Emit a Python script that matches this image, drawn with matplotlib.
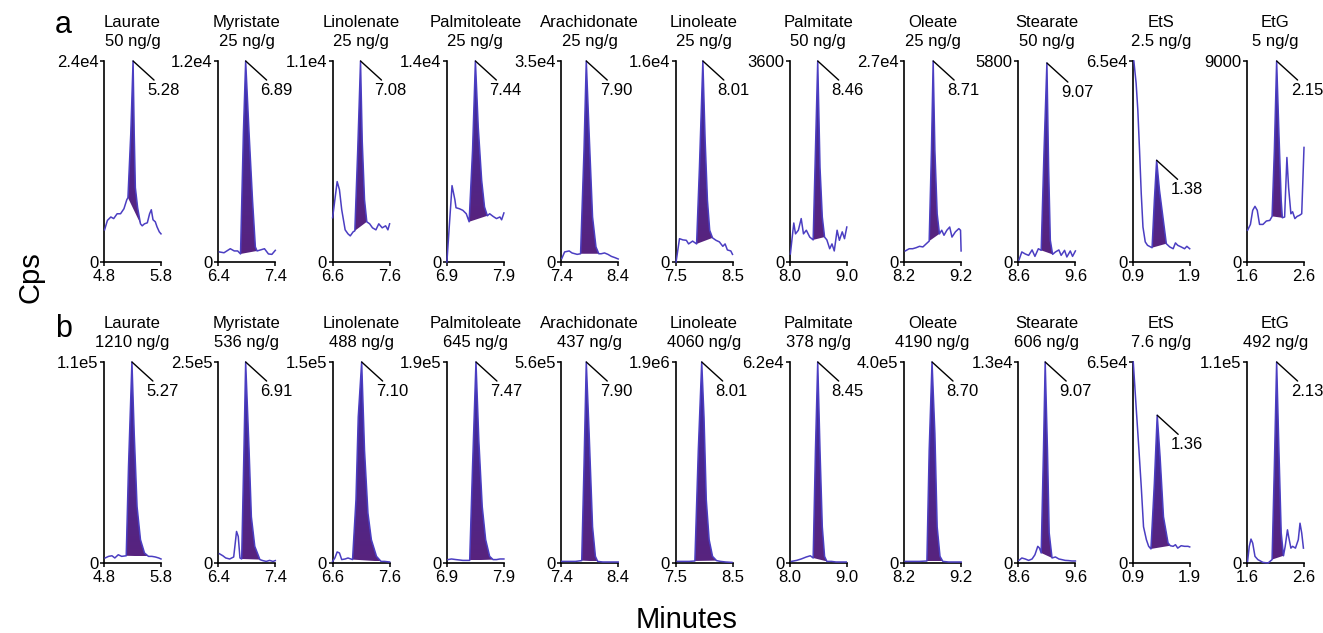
import numpy as np
import matplotlib.pyplot as plt
from matplotlib.patches import Polygon
from matplotlib.colors import LinearSegmentedColormap

plt.rcParams['font.family'] = ['Liberation Sans', 'DejaVu Sans']

# panel info
names = ['Laurate', 'Myristate', 'Linolenate', 'Palmitoleate', 'Arachidonate', 'Linoleate',
         'Palmitate', 'Oleate', 'Stearate', 'EtS', 'EtG']
conc_a = ['50 ng/g', '25 ng/g', '25 ng/g', '25 ng/g', '25 ng/g', '25 ng/g',
          '50 ng/g', '25 ng/g', '50 ng/g', '2.5 ng/g', '5 ng/g']
conc_b = ['1210 ng/g', '536 ng/g', '488 ng/g', '645 ng/g', '437 ng/g', '4060 ng/g',
          '378 ng/g', '4190 ng/g', '606 ng/g', '7.6 ng/g', '492 ng/g']
xstart = [4.8, 6.4, 6.6, 6.9, 7.4, 7.5, 8.0, 8.2, 8.6, 0.9, 1.6]
xend = [5.8, 7.4, 7.6, 7.9, 8.4, 8.5, 9.0, 9.2, 9.6, 1.9, 2.6]
ymax_a = ['2.4e4', '1.2e4', '1.1e4', '1.4e4', '3.5e4', '1.6e4', '3600', '2.7e4', '5800', '6.5e4', '9000']
ymax_b = ['1.1e5', '2.5e5', '1.5e5', '1.9e5', '5.6e5', '1.9e6', '6.2e4', '4.0e5', '1.3e4', '6.5e4', '1.1e5']
rt_a = ['5.28', '6.89', '7.08', '7.44', '7.90', '8.01', '8.46', '8.71', '9.07', '1.38', '2.15']
rt_b = ['5.27', '6.91', '7.10', '7.47', '7.90', '8.01', '8.45', '8.70', '9.07', '1.36', '2.13']

# integrated peak windows (minutes)
peak_a = [(5.22, 5.44), (6.79, 7.08), (6.99, 7.20), (7.29, 7.61), (7.74, 8.06), (7.87, 8.15),
          (8.41, 8.61), (8.64, 8.82), (9.00, 9.20), (1.24, 1.49), (2.04, 2.22)]
peak_b = [(5.19, 5.58), (6.81, 7.13), (6.95, 7.45), (7.30, 7.71), (7.76, 8.04), (7.84, 8.22),
          (8.41, 8.65), (8.60, 8.88), (9.00, 9.19), (1.22, 1.56), (2.04, 2.24)]

# traces: time (min) and intensity in % of panel full scale
# ---- row a (calibrator) ----
laurate_a_t = [4.81, 4.86, 4.92, 4.97, 5.03, 5.09, 5.15, 5.20, 5.22, 5.27, 5.31, 5.33, 5.35, 5.39, 5.44,
               5.47, 5.51, 5.56, 5.60, 5.63, 5.66, 5.70, 5.73, 5.77, 5.80]
laurate_a_y = [16, 20.7, 22.4, 21.6, 24, 24, 26.5, 31, 32, 64, 100, 64, 37, 27, 19,
               18, 19, 19.5, 24, 26, 21, 20, 17.5, 15, 14]
myristate_a_t = [6.42, 6.50, 6.61, 6.68, 6.74, 6.79, 6.84, 6.88, 6.94, 7.00, 7.05, 7.08,
                 7.14, 7.21, 7.28, 7.34, 7.40]
myristate_a_y = [5, 4.6, 6.6, 5.5, 5.5, 4, 64, 100, 64, 31, 7.5, 5.5, 6, 6.6, 4, 3.8, 5.8]
linolenate_a_t = [6.60, 6.64, 6.68, 6.72, 6.76, 6.82, 6.87, 6.91, 6.96, 6.99, 7.04, 7.09, 7.12, 7.16, 7.20,
                  7.25, 7.30, 7.36, 7.41, 7.47, 7.53, 7.57, 7.60]
linolenate_a_y = [22, 31, 40, 36, 26, 16, 14, 13, 15, 15.5, 55, 100, 60, 31, 20,
                  19, 17, 16, 19, 17, 18, 16, 19]
palmitoleate_a_t = [6.90, 6.94, 6.99, 7.04, 7.06, 7.12, 7.18, 7.24, 7.29, 7.35, 7.40, 7.45, 7.51, 7.56, 7.61,
                    7.65, 7.71, 7.77, 7.83, 7.86, 7.90]
palmitoleate_a_y = [0, 17, 38, 31, 27, 26.5, 25.7, 24, 20, 55.5, 100, 67, 40.6, 27.4, 23,
                    24, 22.7, 21.6, 22.4, 21, 24.4]
arachidonate_a_t = [7.41, 7.46, 7.54, 7.59, 7.68, 7.74, 7.80, 7.84, 7.89, 7.95, 8.01, 8.06,
                    8.10, 8.16, 8.22, 8.28, 8.34, 8.40]
arachidonate_a_y = [1.7, 5, 5.5, 4.5, 3.8, 4.1, 55.5, 100, 64, 22.4, 7.5, 4.1,
                    4.1, 4.5, 3.8, 2.8, 2.2, 1.5]
linoleate_a_t = [7.51, 7.57, 7.63, 7.69, 7.73, 7.80, 7.87, 7.92, 7.98, 8.02, 8.06, 8.10, 8.15,
                 8.21, 8.27, 8.33, 8.37, 8.41, 8.47, 8.50]
linoleate_a_y = [0, 11.6, 11, 10.8, 9, 10.4, 9, 47, 100, 60.5, 30.7, 15.8, 12,
                 10.8, 10, 7.8, 9, 6, 5.5, 3.8]
palmitate_a_t = [8.01, 8.07, 8.10, 8.15, 8.20, 8.24, 8.29, 8.35, 8.41, 8.45, 8.49, 8.53, 8.57, 8.61,
                 8.65, 8.70, 8.74, 8.78, 8.83, 8.87, 8.92, 8.96, 9.00]
palmitate_a_y = [4, 19.4, 14, 15.8, 21.6, 14, 15.8, 12.4, 11, 55.5, 100, 47, 22.4, 12.4,
                 11, 6.6, 9, 5.5, 15.8, 10.8, 15, 11.6, 17.4]
oleate_a_t = [8.22, 8.29, 8.35, 8.41, 8.47, 8.53, 8.59, 8.64, 8.68, 8.71, 8.74, 8.78, 8.82,
              8.86, 8.90, 8.95, 9.00, 9.04, 9.10, 9.16, 9.19, 9.20]
oleate_a_y = [5.5, 6.6, 6.6, 7.1, 7.8, 7.5, 9.1, 10.4, 55.5, 100, 55.5, 24, 14,
              15.8, 13.3, 15.8, 17.4, 12.4, 15, 16.6, 15.8, 5.5]
stearate_a_t = [8.61, 8.66, 8.72, 8.78, 8.84, 8.89, 8.95, 9.00, 9.05, 9.10, 9.13, 9.16, 9.20,
                9.25, 9.31, 9.35, 9.41, 9.45, 9.51, 9.55, 9.60]
stearate_a_y = [1, 5, 4, 3.3, 6, 2.8, 6.6, 5.8, 55.5, 99, 47, 10.8, 3.8,
                5, 6, 3.3, 5.8, 2.5, 5.5, 2.8, 5.5]
ets_a_t = [0.92, 0.96, 0.99, 1.02, 1.05, 1.08, 1.12, 1.16, 1.24, 1.28, 1.32, 1.37, 1.43, 1.49,
           1.55, 1.61, 1.65, 1.69, 1.75, 1.81, 1.85, 1.90]
ets_a_y = [100, 89, 75.5, 55.5, 34, 17.4, 10, 8.3, 7.1, 30.7, 50.6, 35.7, 22.4, 9.1,
           7.5, 6.6, 9.5, 8.3, 7.5, 6.6, 7.8, 6.6]
etg_a_t = [1.61, 1.66, 1.70, 1.74, 1.78, 1.82, 1.88, 1.94, 2.00, 2.04, 2.08, 2.12, 2.16, 2.20, 2.22,
           2.26, 2.30, 2.33, 2.37, 2.40, 2.44, 2.48, 2.52, 2.56, 2.60]
etg_a_y = [15.8, 18.7, 25.7, 27.7, 25.7, 18.7, 18.7, 20.4, 20.7, 22.7, 55.5, 100, 64, 30.7, 22,
           22.4, 52, 37, 24, 25, 21.6, 22.7, 23.2, 24, 57]

# ---- row b (sample) ----
laurate_b_t = [4.82, 4.88, 4.94, 4.99, 5.05, 5.11, 5.19, 5.23, 5.29, 5.33, 5.38, 5.44, 5.51, 5.58,
               5.64, 5.70, 5.76, 5.80]
laurate_b_y = [2.5, 3.3, 3.6, 2.5, 4.1, 3.3, 3.6, 48, 100, 64.5, 28, 11.6, 5, 3.3,
               3.3, 3, 2.5, 2]
myristate_b_t = [6.42, 6.48, 6.53, 6.60, 6.67, 6.72, 6.75, 6.78, 6.81, 6.85, 6.88, 6.94, 6.98, 7.04, 7.13,
                 7.18, 7.24, 7.30, 7.36, 7.40]
myristate_b_y = [4.6, 3.6, 2.5, 2, 3, 15.7, 13.2, 2.5, 2, 56, 100, 56, 23, 8.3, 1.7,
                 1.2, 0.8, 1.3, 0.8, 1.2]
linolenate_b_t = [6.60, 6.64, 6.68, 6.72, 6.76, 6.82, 6.87, 6.95, 7.01, 7.05, 7.11, 7.16, 7.22, 7.28, 7.37,
                  7.45, 7.51, 7.60]
linolenate_b_y = [0.8, 2.5, 5.5, 5, 1.7, 2, 2.5, 1.7, 31.4, 72.7, 100, 56, 24.8, 11.6, 3.3,
                  0.8, 0.8, 0.5]
palmitoleate_b_t = [6.92, 6.98, 7.06, 7.18, 7.30, 7.35, 7.41, 7.46, 7.52, 7.58, 7.65, 7.71,
                    7.77, 7.83, 7.90]
palmitoleate_b_y = [1.7, 2, 1.7, 1.3, 1.3, 48, 100, 61, 28, 11.6, 3.3, 1.7,
                    1.7, 2, 2]
arachidonate_b_t = [7.41, 7.53, 7.65, 7.76, 7.80, 7.84, 7.89, 7.95, 8.00, 8.04, 8.13, 8.25, 8.40]
arachidonate_b_y = [0.8, 0.8, 0.8, 1.2, 48, 100, 64.5, 18, 3.3, 0.8, 0.5, 0.5, 0.5]
linoleate_b_t = [7.53, 7.62, 7.74, 7.84, 7.90, 7.96, 8.00, 8.04, 8.09, 8.15, 8.22, 8.29, 8.38, 8.49]
linoleate_b_y = [0.8, 0.8, 0.8, 1, 56, 100, 72.7, 31.4, 11.6, 3.3, 1.2, 0.8, 0.5, 0.3]
palmitate_b_t = [8.03, 8.12, 8.20, 8.29, 8.36, 8.41, 8.45, 8.49, 8.53, 8.57, 8.61, 8.65,
                 8.73, 8.81, 8.90, 8.99]
palmitate_b_y = [0.8, 1.3, 2, 3, 3.6, 2.5, 56, 100, 56, 18, 3.3, 0.8,
                 0.8, 0.5, 0.5, 0.5]
oleate_b_t = [8.22, 8.35, 8.47, 8.60, 8.64, 8.69, 8.74, 8.78, 8.83, 8.88, 8.98, 9.07, 9.20]
oleate_b_y = [0.8, 0.8, 0.8, 1, 56, 100, 64.5, 18, 3.3, 0.8, 0.5, 0.5, 0.5]
stearate_b_t = [8.61, 8.66, 8.72, 8.78, 8.84, 8.89, 8.94, 8.97, 9.00, 9.04, 9.07, 9.11, 9.14, 9.19,
                9.25, 9.31, 9.36, 9.42, 9.48, 9.54, 9.60]
stearate_b_y = [1.3, 2.5, 2, 1.3, 2, 4.1, 8.3, 7.4, 5, 56, 100, 56, 15, 2.5,
                3, 2, 1.7, 1.3, 1.2, 1, 1]
ets_b_t = [0.91, 0.96, 1.01, 1.05, 1.09, 1.14, 1.18, 1.22, 1.28, 1.33, 1.38, 1.44, 1.52, 1.56,
           1.61, 1.65, 1.69, 1.75, 1.81, 1.87, 1.90]
ets_b_y = [100, 77.7, 56, 38, 18, 11.6, 8.3, 7, 39.7, 73.5, 53, 23, 10, 8.6,
           8.3, 9.1, 7.4, 8.6, 8.3, 8.3, 8]
etg_b_t = [1.61, 1.64, 1.67, 1.70, 1.74, 1.79, 1.88, 1.97, 2.04, 2.08, 2.12, 2.16, 2.20, 2.24,
           2.27, 2.31, 2.33, 2.37, 2.40, 2.45, 2.50, 2.53, 2.56, 2.59]
etg_b_y = [0.8, 8.3, 11.9, 9.9, 3.3, 1.7, 0.3, 0, 1.7, 48, 100, 56, 15, 3.6,
           8.3, 16.5, 13.2, 7.4, 8.3, 7.4, 11.6, 19.8, 14.9, 7.4]

row_a = [(laurate_a_t, laurate_a_y), (myristate_a_t, myristate_a_y), (linolenate_a_t, linolenate_a_y),
         (palmitoleate_a_t, palmitoleate_a_y), (arachidonate_a_t, arachidonate_a_y),
         (linoleate_a_t, linoleate_a_y), (palmitate_a_t, palmitate_a_y), (oleate_a_t, oleate_a_y),
         (stearate_a_t, stearate_a_y), (ets_a_t, ets_a_y), (etg_a_t, etg_a_y)]
row_b = [(laurate_b_t, laurate_b_y), (myristate_b_t, myristate_b_y), (linolenate_b_t, linolenate_b_y),
         (palmitoleate_b_t, palmitoleate_b_y), (arachidonate_b_t, arachidonate_b_y),
         (linoleate_b_t, linoleate_b_y), (palmitate_b_t, palmitate_b_y), (oleate_b_t, oleate_b_y),
         (stearate_b_t, stearate_b_y), (ets_b_t, ets_b_y), (etg_b_t, etg_b_y)]

W, H = 1323, 633
line_c = '#4b3ec2'
cmap = LinearSegmentedColormap.from_list('peak', ['#58237e', '#4a2890', '#3a2fab'])
grad = np.linspace(0, 1, 256).reshape(-1, 1)
fs = 12


def draw_panel(ax, t, pct, top_label, x0, x1, peak, rt, title):
    top = float(top_label)
    t = np.array(t)
    y = np.array(pct) / 100.0 * top
    i0 = int(np.argmin(np.abs(t - peak[0])))
    i1 = int(np.argmin(np.abs(t - peak[1])))
    pt, py = t[i0:i1 + 1], y[i0:i1 + 1]
    poly = Polygon(np.column_stack([pt, py]), closed=True, facecolor='none', edgecolor='none')
    ax.add_patch(poly)
    im = ax.imshow(grad, cmap=cmap, origin='lower', aspect='auto', interpolation='bilinear',
                   extent=[pt.min(), pt.max(), py.min(), py.max()], zorder=2)
    im.set_clip_path(poly)
    ax.plot(t, y, color=line_c, lw=1.1, zorder=3, clip_on=False)

    # retention time callout
    ia = i0 + int(np.argmax(py))
    ax.annotate('', xy=(t[ia], y[ia]), xytext=(22, -20), textcoords='offset pixels',
                arrowprops=dict(arrowstyle='-', lw=1.0, color='black', shrinkA=1, shrinkB=0))
    ax.annotate(rt, xy=(t[ia], y[ia]), xytext=(14, -22), textcoords='offset pixels',
                ha='left', va='top', fontsize=fs)
    ax.annotate(title, xy=(0.5, 1), xycoords='axes fraction', xytext=(0, 12),
                textcoords='offset pixels', ha='center', va='bottom', fontsize=fs, linespacing=1.3)

    ax.set_xlim(x0, x1)
    ax.set_ylim(0, top)
    ax.set_xticks([x0, x1])
    ax.set_xticklabels(['%.1f' % x0, '%.1f' % x1], fontsize=fs)
    ax.set_yticks([0, top])
    ax.set_yticklabels(['0', top_label], fontsize=fs)
    ax.spines['top'].set_visible(False)
    ax.spines['right'].set_visible(False)
    ax.spines['left'].set_linewidth(1.2)
    ax.spines['bottom'].set_linewidth(1.2)
    ax.tick_params(axis='both', length=3, width=1.1, color='black')
    ax.tick_params(axis='x', pad=2)
    ax.tick_params(axis='y', pad=1)


fig = plt.figure(figsize=(W / 100, H / 100), dpi=100)
rows = [(row_a, conc_a, ymax_a, rt_a, peak_a, 61), (row_b, conc_b, ymax_b, rt_b, peak_b, 362)]
for traces, conc, ymax, rts, peaks, top_px in rows:
    for i in range(len(names)):
        left_px = 104 + i * 114.3
        ax = fig.add_axes([left_px / W, 1 - (top_px + 201) / H, 57 / W, 201 / H])
        t, pct = traces[i]
        draw_panel(ax, t, pct, ymax[i], xstart[i], xend[i], peaks[i], rts[i],
                   names[i] + '\n' + conc[i])

fig.text(55 / W, 1 - 33 / H, 'a', fontsize=22, va='baseline', ha='left')
fig.text(55 / W, 1 - 337 / H, 'b', fontsize=22, va='baseline', ha='left')
fig.text(30 / W, 1 - 277 / H, 'Cps', fontsize=21, rotation=90, va='center', ha='center')
fig.text(687 / W, 1 - 620 / H, 'Minutes', fontsize=21, va='center', ha='center')

fig.savefig('out.png', dpi=100)
